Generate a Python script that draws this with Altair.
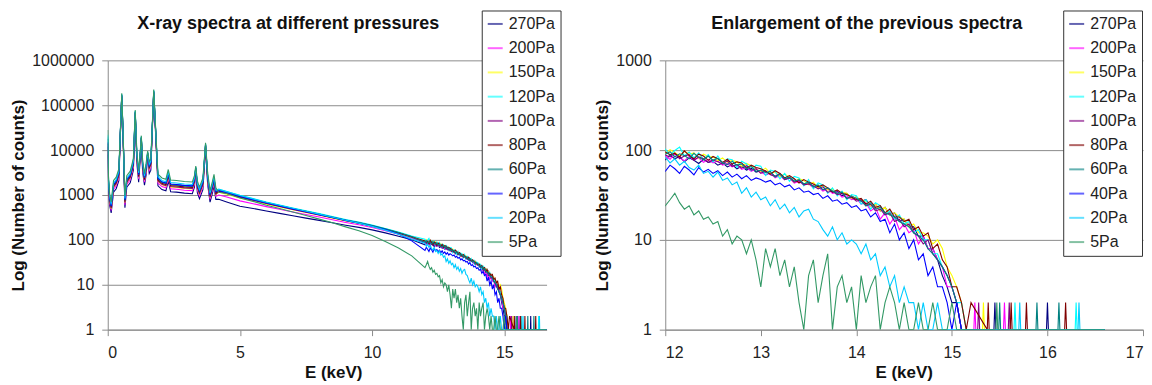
import altair as alt
import pandas as pd

series_names = ["270Pa", "200Pa", "150Pa", "120Pa", "100Pa", "80Pa", "60Pa", "40Pa", "20Pa", "5Pa"]
series_colors = ["#000080", "#FF00FF", "#FFFF00", "#00FFFF", "#800080",
                 "#800000", "#008080", "#0000FF", "#00CCFF", "#339966"]

# energy grids (keV)
E_head = [0.00, 0.03, 0.07, 0.13, 0.22, 0.32, 0.42, 0.48, 0.53, 0.58, 0.65, 0.72, 0.85, 0.97,
          1.04, 1.10, 1.17, 1.23, 1.27, 1.32, 1.39, 1.45, 1.51, 1.57, 1.63, 1.69, 1.74, 1.80,
          1.90, 2.05, 2.20, 2.29, 2.38, 2.60, 2.90, 3.20, 3.28, 3.33, 3.39, 3.47, 3.60, 3.70,
          3.78, 3.87, 3.96, 4.02, 4.09, 4.20, 4.50, 5.00, 5.50, 6.00, 6.50, 7.00, 7.50, 8.00,
          8.50, 9.00, 9.50, 10.00, 10.50, 11.00, 11.50]
E_tail = [12.00, 12.05, 12.10, 12.15, 12.20, 12.25, 12.30, 12.35, 12.40, 12.45, 12.50, 12.55,
          12.60, 12.65, 12.70, 12.75, 12.80, 12.85, 12.90, 12.95, 13.00, 13.05, 13.10, 13.15,
          13.20, 13.25, 13.30, 13.35, 13.40, 13.45, 13.50, 13.55, 13.60, 13.65, 13.70, 13.75,
          13.80, 13.85, 13.90, 13.95, 14.00, 14.05, 14.10, 14.15, 14.20, 14.25, 14.30, 14.35,
          14.40, 14.45, 14.50, 14.55, 14.60, 14.65, 14.70, 14.75, 14.80, 14.85, 14.90, 14.95,
          15.00, 15.05, 15.10, 15.15, 15.20]

# ---- counts, 0 - 11.5 keV ----
head_270 = [8000, 1380, 600, 400, 1160, 1380, 2090, 22500, 139000, 19500, 520, 1490, 1870, 3580,
            58500, 5230, 1930, 6750, 15800, 3300, 1650, 2750, 7130, 3030, 3580, 31500, 169000, 31500,
            1600, 1320, 1240, 2040, 1180, 1160, 1100, 1070, 1490, 3300, 1130, 830, 1320, 10900,
            1710, 690, 1100, 1600, 800,
            800, 700, 560, 500, 440, 390, 345, 305, 272, 240, 212, 190, 167, 143, 121, 101]
head_200 = [9000, 1600, 700, 450, 1340, 1600, 2430, 24000, 148000, 20800, 610, 1730, 2180, 4160,
            62400, 6080, 2240, 7200, 16800, 3840, 1920, 3200, 7600, 3520, 4160, 33600, 180000, 33600,
            1860, 1540, 1440, 2370, 1380, 1340, 1280, 1250, 1730, 3520, 1310, 960, 1540, 11600,
            1980, 800, 1280, 1860, 930,
            1000, 900, 740, 640, 550, 480, 418, 368, 322, 280, 245, 217, 188, 160, 134, 110]
head_150 = [10000, 1750, 770, 490, 1470, 1750, 2660, 25500, 157000, 22100, 670, 1890, 2380, 4550,
            66300, 6650, 2450, 7650, 17900, 4200, 2100, 3500, 8080, 3850, 4550, 35700, 191000, 35700,
            2030, 1680, 1580, 2590, 1510, 1470, 1400, 1370, 1890, 3740, 1440, 1050, 1680, 12300,
            2170, 880, 1400, 2030, 1020,
            1150, 1040, 860, 735, 625, 540, 468, 407, 354, 305, 265, 233, 200, 169, 141, 115]
head_120 = [22000, 2000, 880, 560, 1680, 2000, 3040, 27900, 172000, 24200, 760, 2160, 2720, 5200,
            72500, 7600, 2800, 8400, 19500, 4800, 2400, 4000, 8840, 4400, 5200, 39000, 209000, 39000,
            2320, 1920, 1800, 2960, 1720, 1680, 1600, 1560, 2160, 4090, 1640, 1200, 1920, 13500,
            2480, 1000, 1600, 2320, 1160,
            1350, 1200, 980, 830, 700, 600, 515, 445, 385, 330, 285, 250, 215, 180, 150, 122]
head_100 = [12000, 1800, 790, 500, 1510, 1800, 2740, 25800, 159000, 22400, 680, 1940, 2450, 4680,
            67000, 6840, 2520, 7740, 18100, 4320, 2160, 3600, 8170, 3960, 4680, 36100, 193000, 36100,
            2090, 1730, 1620, 2660, 1550, 1510, 1440, 1400, 1940, 3780, 1480, 1080, 1730, 12500,
            2230, 900, 1440, 2090, 1040,
            1200, 1080, 890, 760, 645, 555, 478, 415, 360, 310, 268, 235, 202, 170, 141, 114]
head_80 = [14000, 1900, 840, 530, 1600, 1900, 2890, 26400, 163000, 22900, 720, 2050, 2580, 4940,
           68600, 7200, 2660, 7900, 18500, 4560, 2280, 3800, 8360, 4180, 4940, 37000, 198000, 37000,
           2200, 1820, 1710, 2810, 1630, 1600, 1520, 1480, 2050, 3870, 1560, 1140, 1820, 12800,
           2360, 950, 1520, 2200, 1100,
           1250, 1120, 920, 785, 665, 572, 492, 426, 368, 316, 273, 240, 206, 173, 144, 117]
head_60 = [18000, 2000, 880, 560, 1680, 2000, 3040, 27600, 170000, 23900, 760, 2160, 2720, 5200,
           71800, 7600, 2800, 8300, 19300, 4800, 2400, 4000, 8700, 4400, 5200, 38600, 207000, 38600,
           2320, 1920, 1800, 2960, 1720, 1680, 1600, 1560, 2160, 4050, 1640, 1200, 1920, 13300,
           2480, 1000, 1600, 2320, 1160,
           1300, 1165, 950, 805, 680, 585, 500, 433, 375, 322, 278, 244, 210, 176, 146, 118]
head_40 = [15000, 2050, 900, 570, 1720, 2050, 3100, 27000, 167000, 23400, 780, 2210, 2790, 5330,
           70000, 7800, 2870, 8100, 18900, 4900, 2460, 4100, 8550, 4500, 5330, 37800, 203000, 37800,
           2380, 1970, 1850, 3030, 1760, 1720, 1640, 1600, 2210, 3960, 1680, 1230, 1970, 13000,
           2540, 1030, 1640, 2380, 1190,
           1260, 1130, 930, 790, 665, 570, 490, 425, 365, 315, 272, 235, 202, 170, 135, 95]
head_20 = [20000, 2200, 970, 620, 1850, 2200, 3350, 28500, 176000, 24700, 840, 2380, 2990, 5720,
           74000, 8360, 3080, 8550, 20000, 5280, 2640, 4400, 9000, 4840, 5720, 40000, 214000, 40000,
           2550, 2110, 1980, 3260, 1890, 1850, 1760, 1720, 2380, 4180, 1800, 1320, 2110, 13800,
           2730, 1100, 1760, 2550, 1280,
           1330, 1190, 975, 820, 690, 590, 505, 435, 375, 320, 275, 236, 200, 165, 134, 104]
head_5 = [28000, 2500, 1100, 700, 2100, 2500, 3800, 30000, 185000, 26000, 950, 2700, 3400, 6500,
          78000, 9500, 3500, 9000, 21000, 6000, 3000, 5000, 9500, 5500, 6500, 42000, 225000, 42000,
          2900, 2400, 2250, 3700, 2150, 2100, 2000, 1950, 2700, 4400, 2050, 1500, 2400, 14500,
          3100, 1250, 2000, 2900, 1450,
          1150, 1080, 860, 720, 590, 500, 420, 350, 290, 240, 195, 160, 125, 92, 66, 44]

# ---- counts, 12.0 - 15.2 keV ----
tail_270 = [78, 88, 80, 85, 74, 82, 77, 71, 79, 73, 75, 68, 72, 65, 69, 62, 66, 60, 63, 57,
            59, 53, 56, 51, 53, 47, 50, 45, 46, 42, 43, 39, 40, 36, 38, 34, 35, 31, 33, 29,
            30, 27, 28, 24, 25, 21, 23, 19, 20, 16, 17, 14, 14, 11, 11, 8, 8, 6, 4, 3,
            2, 2, 1, 1, 1]
tail_200 = [86, 79, 90, 82, 76, 85, 78, 82, 73, 79, 72, 76, 68, 71, 65, 69, 61, 64, 58, 62,
            57, 53, 56, 49, 52, 47, 49, 43, 45, 41, 42, 38, 39, 35, 37, 33, 34, 30, 31, 28,
            29, 25, 26, 21, 23, 17, 20, 15, 18, 13, 15, 12, 13, 9, 11, 8, 8, 6, 5, 3,
            3, 2, 1, 1, 1]
tail_150 = [92, 101, 94, 86, 97, 90, 93, 81, 90, 85, 84, 76, 82, 73, 77, 74, 66, 71, 67, 61,
            58, 63, 55, 57, 51, 54, 50, 44, 48, 46, 41, 44, 38, 40, 36, 37, 32, 34, 33, 29,
            30, 28, 27, 24, 25, 21, 23, 19, 20, 18, 17, 14, 15, 12, 12, 11, 9, 10, 8, 5,
            4, 3, 2, 1, 1]
tail_120 = [103, 88, 99, 108, 86, 95, 82, 93, 79, 89, 74, 86, 71, 80, 78, 64, 75, 70, 59, 68,
            66, 52, 60, 58, 48, 55, 45, 51, 49, 40, 47, 37, 43, 41, 33, 38, 31, 35, 28, 32,
            31, 25, 28, 22, 26, 24, 19, 21, 17, 19, 15, 16, 12, 13, 10, 10, 7, 7, 5, 4,
            3, 2, 2, 1, 1]
tail_100 = [88, 84, 93, 80, 86, 89, 77, 84, 80, 73, 78, 74, 70, 76, 66, 69, 63, 67, 60, 62,
            55, 59, 53, 51, 55, 47, 49, 44, 46, 41, 42, 40, 37, 39, 34, 35, 32, 33, 29, 30,
            27, 28, 24, 25, 21, 22, 19, 20, 16, 17, 14, 15, 12, 11, 9, 10, 7, 6, 5, 4,
            3, 2, 1, 1, 1]
tail_80 = [95, 89, 92, 84, 98, 87, 80, 90, 86, 77, 85, 80, 73, 79, 70, 74, 72, 63, 68, 64,
           62, 58, 54, 59, 55, 49, 52, 48, 43, 47, 44, 42, 39, 41, 38, 34, 36, 33, 32, 30,
           28, 29, 25, 27, 23, 24, 20, 22, 18, 18, 16, 17, 13, 14, 11, 12, 8, 9, 6, 5,
           3, 3, 2, 1, 2]
tail_60 = [90, 96, 84, 91, 87, 80, 92, 83, 78, 86, 77, 81, 72, 69, 75, 68, 70, 62, 66, 58,
           60, 56, 58, 50, 54, 48, 50, 45, 47, 42, 44, 39, 41, 36, 38, 35, 33, 34, 29, 31,
           29, 27, 24, 26, 22, 23, 20, 19, 18, 16, 15, 14, 12, 11, 10, 8, 7, 6, 5, 4,
           3, 2, 1, 1, 1]
tail_40 = [58, 68, 62, 55, 66, 60, 53, 64, 57, 61, 55, 59, 52, 57, 50, 54, 48, 52, 46, 49,
           47, 44, 46, 41, 43, 39, 41, 36, 38, 34, 35, 32, 33, 29, 31, 27, 28, 25, 26, 23,
           24, 21, 22, 18, 20, 16, 17, 12, 15, 10, 12, 8, 10, 6, 7, 4, 5, 3, 3, 2,
           1, 2, 1, 1, 1]
tail_20 = [84, 72, 80, 68, 75, 64, 60, 68, 55, 58, 50, 57, 46, 49, 41, 44, 33, 38, 30, 34,
           28, 30, 24, 28, 22, 25, 20, 23, 18, 21, 22, 17, 16, 13, 11, 14, 10, 12, 9, 10,
           9, 7, 9, 6, 7, 4, 5, 3, 4, 2, 3, 2, 2, 1, 2, 1, 1, 2, 1, 1,
           1, 1, 1, 1, 1]
tail_5 = [24, 28, 33, 26, 22, 24, 19, 21, 17, 18, 15, 16, 11, 13, 9, 11, 10, 7, 10, 6,
          3, 8, 5, 8, 4, 6, 3, 5, 2, 1, 4, 6, 2, 4, 7, 1, 3, 4, 2, 3,
          1, 4, 2, 3, 4, 1, 2, 3, 2, 1, 2, 1, 1, 2, 1, 1, 2, 1, 1, 1,
          2, 1, 1, 1, 1]

# ---- isolated single counts above the cut-off (energy, counts) ----
spkE_270 = [15.44, 15.45, 15.46, 15.99, 16.00, 16.01, 16.60]
spkC_270 = [1, 2, 1, 1, 2, 1, 1]
spkE_200 = [15.23, 15.24, 15.25, 15.54, 15.55, 15.56, 16.60]
spkC_200 = [1, 2, 1, 1, 2, 1, 1]
spkE_150 = [15.32, 15.33, 15.34, 16.60]
spkC_150 = [1, 2, 1, 1]
spkE_120 = [15.65, 15.66, 15.67, 16.29, 16.30, 16.31, 16.60]
spkC_120 = [1, 2, 1, 1, 2, 1, 1]
spkE_100 = [15.27, 15.28, 15.29, 15.59, 15.60, 15.61, 16.60]
spkC_100 = [1, 2, 1, 1, 2, 1, 1]
spkE_80 = [15.37, 15.38, 15.39, 15.61, 15.62, 15.63, 15.77, 15.78, 15.79, 16.18, 16.19, 16.20, 16.60]
spkC_80 = [1, 2, 1, 1, 2, 1, 1, 2, 1, 1, 2, 1, 1]
spkE_60 = [15.49, 15.50, 15.51, 15.88, 15.89, 15.90, 16.11, 16.12, 16.13, 16.60]
spkC_60 = [1, 2, 1, 1, 2, 1, 1, 2, 1, 1]
spkE_40 = [16.60]
spkC_40 = [1]
spkE_20 = [15.70, 15.71, 15.72, 16.32, 16.33, 16.34, 16.60]
spkC_20 = [1, 2, 1, 1, 2, 1, 1]
spkE_5 = [15.46, 15.47, 15.48, 16.60]
spkC_5 = [1, 2, 1, 1]

titles = ["X-ray spectra at different pressures", "Enlargement of the previous spectra"]

heads = [head_270, head_200, head_150, head_120, head_100, head_80, head_60, head_40, head_20, head_5]
tails = [tail_270, tail_200, tail_150, tail_120, tail_100, tail_80, tail_60, tail_40, tail_20, tail_5]
spkE = [spkE_270, spkE_200, spkE_150, spkE_120, spkE_100, spkE_80, spkE_60, spkE_40, spkE_20, spkE_5]
spkC = [spkC_270, spkC_200, spkC_150, spkC_120, spkC_100, spkC_80, spkC_60, spkC_40, spkC_20, spkC_5]

rows = []
for name, h, t, se, sc in zip(series_names, heads, tails, spkE, spkC):
    es = E_head + E_tail + se
    vals = h + t + sc
    assert len(vals) == len(es), (name, len(vals), len(es))
    for e, v in zip(es, vals):
        rows.append({"E": e, "counts": v, "series": name})
df = pd.DataFrame(rows)

FONT = "Liberation Sans"
GREY = "#8c8c8c"
PLOT_H = 270


def panel(data, xdom, xvals, ydom, yvals, width, title, legend_x, title_x, xtitle_x):
    legend = alt.Legend(
        orient="none", legendX=legend_x, legendY=-50, title=None,
        fillColor="white", strokeColor="#333", padding=5, rowPadding=7.3,
        symbolType="stroke", symbolSize=225, symbolStrokeWidth=2, symbolOpacity=0.6,
        labelFont=FONT, labelFontSize=16, labelColor="#222", labelOffset=5,
    )
    lines = alt.Chart(data).mark_line(strokeWidth=1.1, clip=True).encode(
        x=alt.X("E:Q",
                scale=alt.Scale(domain=xdom, nice=False, zero=False),
                axis=alt.Axis(values=xvals, format="d", title="E (keV)", grid=False,
                              labelPadding=9, titlePadding=4, titleX=xtitle_x)),
        y=alt.Y("counts:Q",
                scale=alt.Scale(type="log", domain=ydom, nice=False),
                axis=alt.Axis(values=yvals, format="d", title="Log (Number of counts)",
                              grid=True, labelPadding=8, titlePadding=4)),
        color=alt.Color("series:N",
                        scale=alt.Scale(domain=series_names, range=series_colors),
                        legend=legend),
    )
    heading = alt.Chart(pd.DataFrame({"t": [title]})).mark_text(
        font=FONT, fontSize=18, fontWeight="bold", color="#111",
        align="center", baseline="alphabetic",
    ).encode(text="t:N", x=alt.value(title_x), y=alt.value(-31))
    return alt.layer(lines, heading).properties(width=width, height=PLOT_H)


left = panel(df, [0, 16.6], [0, 5, 10, 15], [1, 1000000],
             [1, 10, 100, 1000, 10000, 100000, 1000000], 440,
             titles[0], 375, 181, 226)
right = panel(df[df["E"] >= 11.5], [12, 17], [12, 13, 14, 15, 16, 17], [1, 1000],
              [1, 10, 100, 1000], 479,
              titles[1], 399, 202, 239)

chart = alt.hconcat(left, right, spacing=119, bounds="flush").resolve_scale(
    color="independent"
).properties(
    padding={"left": 1, "top": 1, "right": 0, "bottom": 0},
    background="white",
).configure_axis(
    domainColor=GREY, tickColor=GREY, gridColor=GREY, tickSize=6,
    labelFont=FONT, labelFontSize=16, labelColor="#222",
    titleFont=FONT, titleFontSize=17, titleFontWeight="bold", titleColor="#111",
).configure_view(strokeWidth=0)

chart.save("out.html", embed_options={"renderer": "svg", "actions": False})
